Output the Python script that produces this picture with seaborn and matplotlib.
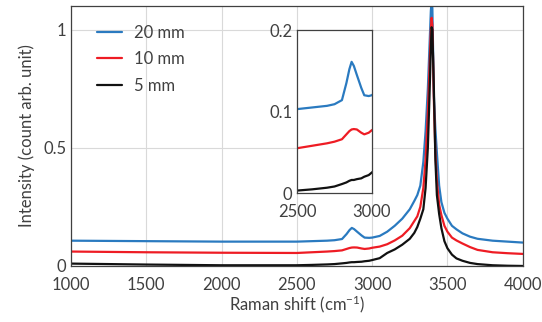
import matplotlib
matplotlib.use("Agg")
import matplotlib.pyplot as plt
import seaborn as sns
import pandas as pd
from matplotlib.ticker import MultipleLocator, FuncFormatter

# ---- data ----
shift = [1000, 1500, 2000, 2500, 2600, 2700, 2750, 2800, 2830, 2850, 2865, 2880,
         2900, 2930, 2950, 2980, 3000, 3050, 3100, 3150, 3200, 3250, 3280, 3300,
         3320, 3340, 3355, 3370, 3380, 3390, 3395, 3400, 3410, 3420, 3430, 3445,
         3460, 3480, 3500, 3530, 3560, 3600, 3650, 3700, 3800, 3900, 4000]

i_20mm = [0.107, 0.105, 0.103, 0.103, 0.105, 0.107, 0.109, 0.114, 0.135, 0.152, 0.161, 0.156,
          0.145, 0.129, 0.120, 0.119, 0.120, 0.127, 0.145, 0.170, 0.200, 0.240, 0.275, 0.300,
          0.340, 0.440, 0.570, 0.750, 0.915, 1.080, 1.120, 1.090, 0.720, 0.580, 0.480, 0.340,
          0.270, 0.225, 0.200, 0.170, 0.155, 0.138, 0.124, 0.115, 0.107, 0.103, 0.099]

i_10mm = [0.061, 0.058, 0.056, 0.055, 0.058, 0.061, 0.063, 0.066, 0.072, 0.076, 0.078, 0.0785,
          0.078, 0.074, 0.072, 0.074, 0.077, 0.082, 0.092, 0.108, 0.128, 0.160, 0.190, 0.210,
          0.250, 0.330, 0.450, 0.650, 0.820, 1.000, 1.050, 1.020, 0.700, 0.480, 0.360, 0.260,
          0.215, 0.170, 0.145, 0.120, 0.108, 0.095, 0.080, 0.068, 0.058, 0.054, 0.051]

i_5mm = [0.010, 0.006, 0.003, 0.003, 0.0045, 0.0065, 0.008, 0.011, 0.013, 0.015, 0.016, 0.016,
         0.017, 0.018, 0.020, 0.022, 0.025, 0.033, 0.055, 0.070, 0.090, 0.115, 0.140, 0.165,
         0.200, 0.240, 0.330, 0.500, 0.700, 0.920, 1.010, 1.000, 0.750, 0.450, 0.300, 0.220,
         0.160, 0.105, 0.075, 0.048, 0.032, 0.022, 0.013, 0.008, 0.003, 0.001, 0.000]

labels = ["20 mm", "10 mm", "5 mm"]
colors = ["#2a7ac0", "#ee1c24", "#111111"]

df = pd.concat([
    pd.DataFrame({"shift": shift, "I": vals, "sample": lab})
    for vals, lab in zip([i_20mm, i_10mm, i_5mm], labels)
])

sns.set_theme(style="white")
plt.rcParams["font.family"] = ["Lato", "DejaVu Sans"]
plt.rcParams["mathtext.fontset"] = "custom"
plt.rcParams["mathtext.rm"] = "Lato"
plt.rcParams["mathtext.it"] = "Lato"

txt = "#404040"
fs = 12
fig = plt.figure(figsize=(5.42, 3.22), dpi=100)
ax = fig.add_axes([0.131, 0.174, 0.8334, 0.8074])

sns.lineplot(data=df, x="shift", y="I", hue="sample", hue_order=labels,
             palette=colors, estimator=None, sort=True, linewidth=1.6, ax=ax)

ax.set_xlim(1000, 4000)
ax.set_ylim(0, 1.1)
ax.xaxis.set_major_locator(MultipleLocator(500))
ax.xaxis.set_minor_locator(MultipleLocator(100))
ax.yaxis.set_major_locator(MultipleLocator(0.5))
ax.yaxis.set_minor_locator(MultipleLocator(0.1))
ax.yaxis.set_major_formatter(FuncFormatter(lambda v, p: f"{v:g}"))
ax.grid(True, which="major", color="#d9d9d9", linewidth=0.8)
ax.set_axisbelow(True)
ax.tick_params(which="both", direction="in", top=False, right=False,
               colors="#404040", labelcolor=txt, labelsize=fs)
ax.tick_params(which="major", length=5, width=0.8)
ax.tick_params(which="minor", length=4, width=0.8)
ax.tick_params(axis="x", pad=8)
for s in ax.spines.values():
    s.set_color("#404040")
    s.set_linewidth(0.9)
ax.set_xlabel("Raman shift (cm$^{-1}$)", fontsize=fs, color=txt, labelpad=0)
ax.set_ylabel("Intensity (count arb. unit)", fontsize=fs, color=txt, labelpad=6)

leg = ax.legend(loc="upper left", bbox_to_anchor=(0.025, 0.985), frameon=False,
                fontsize=fs, handlelength=1.5, handletextpad=0.7, labelspacing=0.62)
for t in leg.get_texts():
    t.set_color(txt)

# ---- inset ----
axi = fig.add_axes([0.5485, 0.4006, 0.1373, 0.506])
sns.lineplot(data=df, x="shift", y="I", hue="sample", hue_order=labels,
             palette=colors, estimator=None, sort=True, linewidth=1.6,
             ax=axi, legend=False)
axi.set_xlim(2500, 3000)
axi.set_ylim(0, 0.2)
axi.set_facecolor("white")
axi.xaxis.set_major_locator(MultipleLocator(500))
axi.xaxis.set_minor_locator(MultipleLocator(50))
axi.yaxis.set_major_locator(MultipleLocator(0.1))
axi.yaxis.set_minor_locator(MultipleLocator(0.02))
axi.yaxis.set_major_formatter(FuncFormatter(lambda v, p: f"{v:g}"))
axi.tick_params(which="both", direction="in", top=False, right=False,
                colors="#404040", labelcolor=txt, labelsize=fs)
axi.tick_params(which="major", length=5, width=0.8)
axi.tick_params(which="minor", length=4, width=0.8)
axi.tick_params(axis="x", pad=8)
axi.set_xlabel("")
axi.set_ylabel("")
for s in axi.spines.values():
    s.set_color("#404040")
    s.set_linewidth(0.9)

fig.savefig("out.png", dpi=100)
